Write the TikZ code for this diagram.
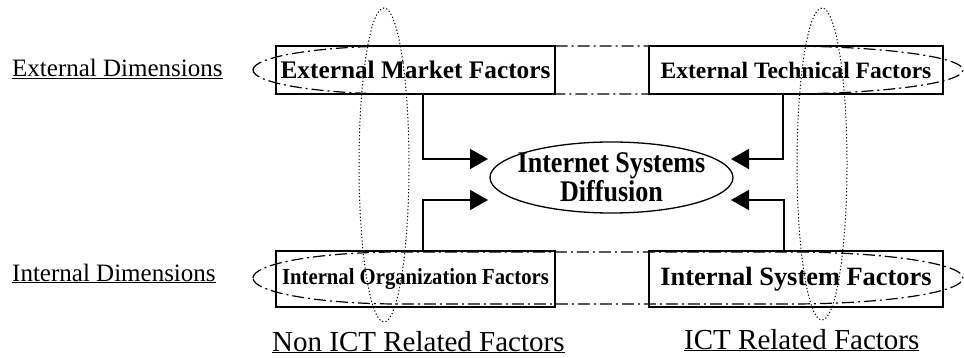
\documentclass[tikz,border=0pt]{standalone}
\usepackage{fontspec}
\setmainfont{Liberation Serif}
\newfontfamily\condfont[FakeStretch=0.87]{Liberation Serif}
\newfontfamily\tightfont[FakeStretch=0.9]{Liberation Serif}
\usetikzlibrary{shapes.geometric,arrows.meta}
\begin{document}
\begin{tikzpicture}[x=1pt,y=-1pt,
  factorbox/.style={draw,line width=1.4pt,inner sep=0pt},
  dimlabel/.style={anchor=base west,inner sep=0pt,font=\fontsize{25}{30}\selectfont},
  grouplabel/.style={anchor=base west,inner sep=0pt,font=\fontsize{29}{34}\selectfont},
  dashdot/.style={line width=1.2pt,dash pattern=on 12pt off 4pt on 2pt off 4pt},
  dotline/.style={line width=1pt,dash pattern=on 1.2pt off 2.2pt},
  arr/.style={line width=1.5pt,-{Triangle[length=18pt,width=20pt]}}]
\fill[white] (0,0) rectangle (964,358);
\useasboundingbox (0,0) rectangle (964,358);

% factor boxes
\node[factorbox,minimum width=279pt,minimum height=48pt,
  font=\bfseries\fontsize{25.3}{30}\selectfont] (emf) at (415.5,70) {External Market Factors};
\node[factorbox,minimum width=294pt,minimum height=48pt,
  font=\bfseries\fontsize{23.5}{28}\selectfont] (etf) at (796,70) {External Technical Factors};
\node[factorbox,minimum width=279pt,minimum height=56pt,
  font=\tightfont\bfseries\fontsize{23}{28}\selectfont] (iof) at (415.5,279) {Internal Organization Factors};
\node[factorbox,minimum width=294pt,minimum height=56pt,
  font=\bfseries\fontsize{26.4}{30}\selectfont] (isf) at (796,279) {Internal System Factors};

% central ellipse
\node[ellipse,draw,line width=1.3pt,minimum width=243pt,minimum height=71pt,inner sep=0pt] (isd) at (611.5,177.5) {};
\node[align=center,inner sep=0pt,font=\condfont\bfseries\fontsize{30}{29}\selectfont] (isdtext) at (isd.center) {Internet Systems\\Diffusion};

% arrows
\coordinate (tA) at (488,159);
\coordinate (tB) at (731,159);
\coordinate (tC) at (488,200);
\coordinate (tD) at (731,200);
\draw[arr] ([xshift=7.5pt]emf.south) |- (tA);
\draw[arr] ([xshift=-13pt]etf.south) |- (tB);
\draw[arr] ([xshift=7.5pt]iof.north) |- (tC);
\draw[arr] ([xshift=-12pt]isf.north) |- (tD);

% horizontal dimension groupings
\draw[dashdot] (253,70) arc[start angle=180,end angle=270,x radius=147,y radius=24]
  -- (780,46) arc[start angle=270,end angle=360,x radius=183,y radius=24]
  arc[start angle=0,end angle=90,x radius=183,y radius=24]
  -- (400,94) arc[start angle=90,end angle=180,x radius=147,y radius=24] -- cycle;
\draw[dashdot] (253,278) arc[start angle=180,end angle=270,x radius=147,y radius=26]
  -- (790,252) arc[start angle=270,end angle=360,x radius=173,y radius=26]
  arc[start angle=0,end angle=90,x radius=173,y radius=26]
  -- (400,304) arc[start angle=90,end angle=180,x radius=147,y radius=26] -- cycle;

% vertical ICT groupings
\draw[dotline] (384,165) ellipse[x radius=25,y radius=157];
\draw[dotline] (822,164) ellipse[x radius=25,y radius=156];

% labels
\node[dimlabel] (extdim) at (12,77) {\underline{External Dimensions}};
\node[dimlabel] (intdim) at (12,281) {\underline{Internal Dimensions}};
\node[grouplabel] (nonict) at (272,351) {\underline{Non ICT Related Factors}};
\node[grouplabel] (ict) at (684,349) {\underline{ICT Related Factors}};
\end{tikzpicture}
\end{document}
